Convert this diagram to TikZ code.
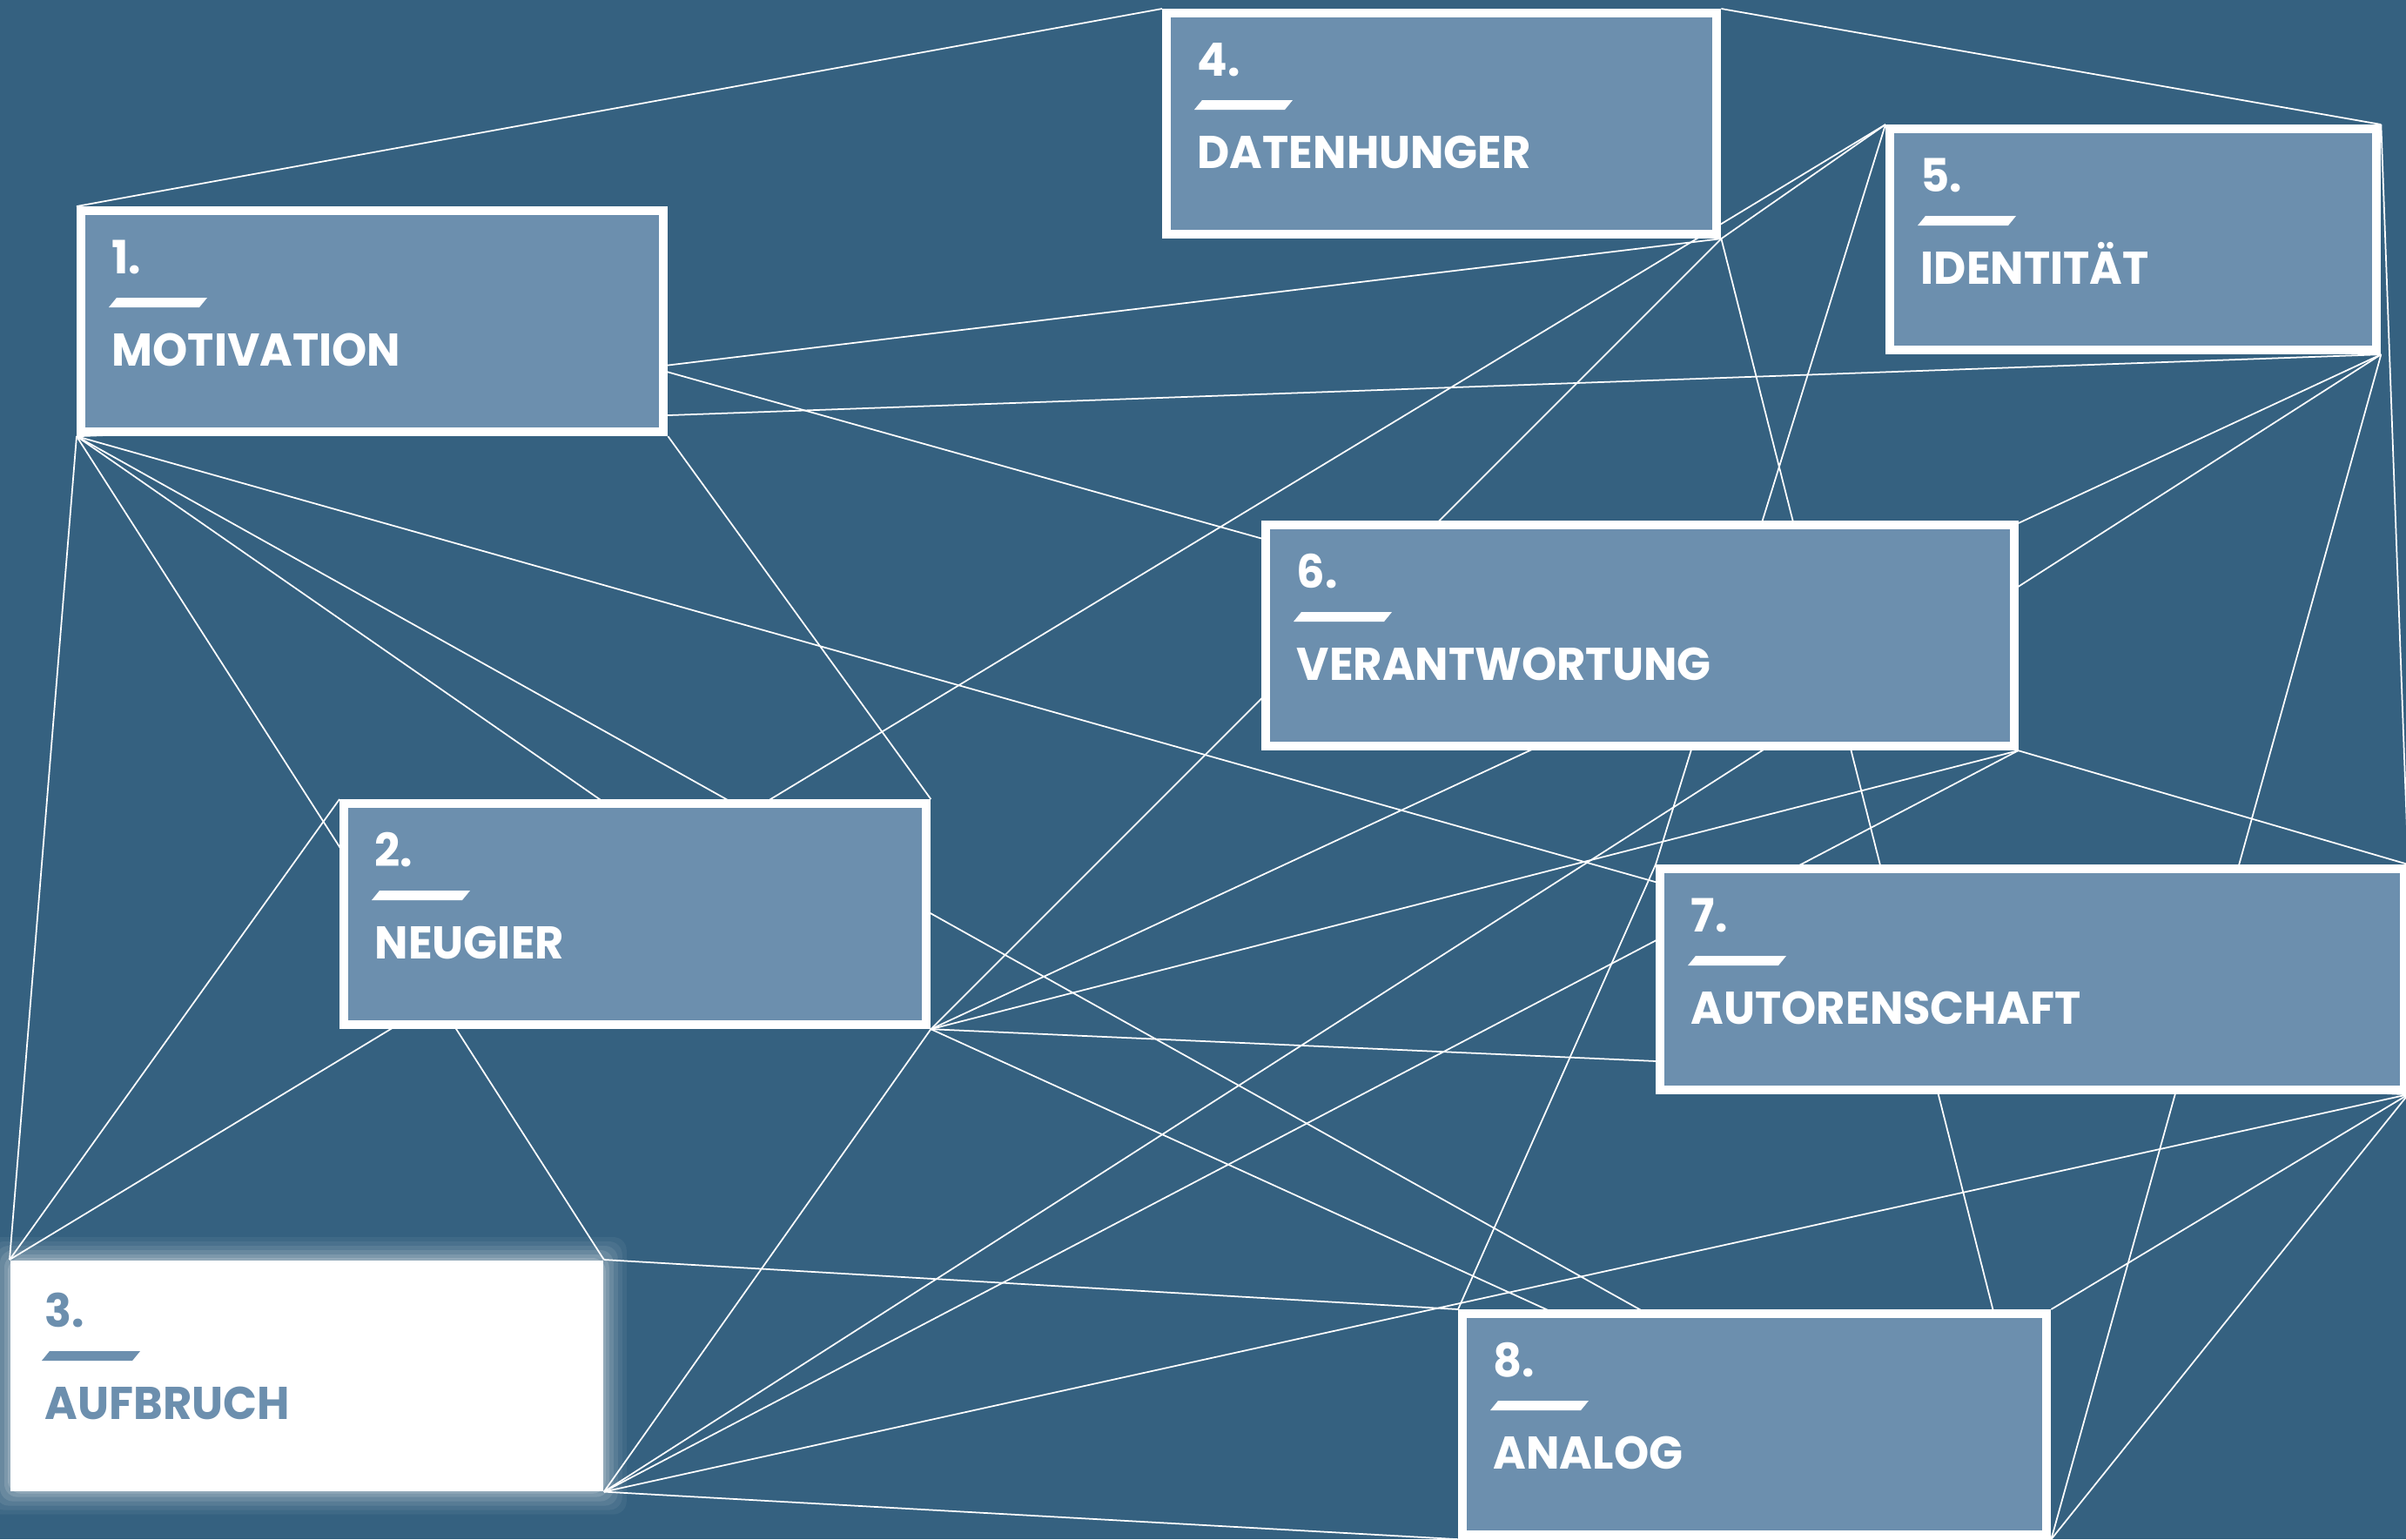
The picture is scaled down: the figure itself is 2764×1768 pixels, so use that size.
\documentclass[tikz,border=0pt]{standalone}
\usepackage{fontspec}
\newfontfamily\boxfont[FakeStretch=0.97]{Poppins}
\definecolor{bgblue}{RGB}{53,97,128}
\definecolor{boxfill}{RGB}{108,143,174}
\pgfdeclarelayer{bg}
\pgfdeclarelayer{glow}
\pgfdeclarelayer{lines}
\pgfsetlayers{bg,glow,lines,main}
\tikzset{
  card/.style={draw=white, line width=0.1cm, fill=boxfill, anchor=north west,
    inner sep=0pt, minimum width=6.69cm, minimum height=2.54cm},
  lightcard/.style={fill=white, anchor=north west, inner sep=0pt,
    minimum width=6.81cm, minimum height=2.65cm},
  numtext/.style={font=\boxfont\bfseries\fontsize{15}{18}\selectfont, text=white,
    anchor=base west, inner sep=0pt},
  titletext/.style={font=\boxfont\bfseries\fontsize{15}{18}\selectfont, text=white,
    anchor=base west, inner sep=0pt},
  link/.style={draw=white, line width=0.5pt},
}
% number, dash and title inside a card
\newcommand\cardlabel[4]{%
  \node[numtext, #4] (#1num) at ([shift={(40,77)}]#1.north west) {#2};
  \fill[#4] ([shift={(37,116)}]#1.north west) -- ++(104,0) -- ++(9,-11) -- ++(-104,0) -- cycle;
  \node[titletext, #4] (#1title) at ([shift={(40,183)}]#1.north west) {#3};
}
\begin{document}
\begin{tikzpicture}[x=0.01cm, y=-0.01cm]
\useasboundingbox (0,0) rectangle (2764,1768);
\begin{pgfonlayer}{bg}
  \fill[bgblue] (0,0) rectangle (2764,1768);
\end{pgfonlayer}

% cards
\node[card] (b1) at (88,237) {};
\node[card, minimum width=6.32cm] (b4) at (1335,10) {};
\node[card, minimum width=5.59cm] (b5) at (2166,143) {};
\node[card, minimum width=8.59cm] (b6) at (1449,598) {};
\node[card] (b2) at (390,918) {};
\node[card, minimum width=8.54cm] (b7) at (1902,993) {};
\node[lightcard] (b3) at (11,1447) {};
\node[card, minimum width=6.71cm] (b8) at (1675,1504) {};

\cardlabel{b1}{1.}{MOTIVATION}{white}
\cardlabel{b4}{4.}{DATENHUNGER}{white}
\cardlabel{b5}{5.}{IDENTITÄT}{white}
\cardlabel{b6}{6.}{VERANTWORTUNG}{white}
\cardlabel{b2}{2.}{NEUGIER}{white}
\cardlabel{b7}{7.}{AUTORENSCHAFT}{white}
\cardlabel{b3}{3.}{AUFBRUCH}{boxfill}
\cardlabel{b8}{8.}{ANALOG}{white}

% soft halo round the light card
\begin{pgfonlayer}{glow}
  \foreach \r/\o in {26/0.05,21/0.06,16/0.08,11/0.10,6/0.13,2/0.16}
    \fill[white, opacity=\o, rounded corners=0.15cm]
      ([shift={(-\r,-\r)}]b3.north west) rectangle ([shift={(\r,\r)}]b3.south east);
\end{pgfonlayer}

% connecting web, drawn behind the cards
\begin{pgfonlayer}{lines}
  \draw[link] (b1.north west) -- (b4.north west);
  \draw[link] (b4.north east) -- (b5.north east);
  \draw[link] (b5.north east) -- (b7.north east);
  \draw[link] (b1.south west) -- (b3.north west);
  \draw[link] (b1.south west) -- (b3.north east);
  \draw[link] (b1.south west) -- (b2.south east);
  \draw[link] (b1.south west) -- (b8.south east);
  \draw[link] (b1.south west) -- (b7.south east);
  \draw[link] (b1.south west) -- (b4.south east);
  \draw[link] (b1.south west) -- (b5.south east);
  \draw[link] (b1.north west) -- (b6.south east);
  \draw[link] (b1.south east) -- (b2.north east);
  \draw[link] (b4.south east) -- (b5.north west);
  \draw[link] (b4.south east) -- (b2.south east);
  \draw[link] (b4.south east) -- (b8.south east);
  \draw[link] (b5.north west) -- (b3.north west);
  \draw[link] (b5.north west) -- (b7.north west);
  \draw[link] (b7.north west) -- (b8.north west);
  \draw[link] (b5.south east) -- (b2.south east);
  \draw[link] (b5.south east) -- (b3.south east);
  \draw[link] (b5.south east) -- (b8.south east);
  \draw[link] (b6.south east) -- (b2.south east);
  \draw[link] (b6.south east) -- (b3.south east);
  \draw[link] (b6.south east) -- (b7.north east);
  \draw[link] (b2.north west) -- (b3.north west);
  \draw[link] (b2.south east) -- (b3.south east);
  \draw[link] (b2.south east) -- (b7.south east);
  \draw[link] (b2.south east) -- (b8.south east);
  \draw[link] (b3.north east) -- (b8.north west);
  \draw[link] (b3.south east) -- (b8.south west);
  \draw[link] (b3.south east) -- (b7.south east);
  \draw[link] (b7.south east) -- (b8.north east);
  \draw[link] (b7.south east) -- (b8.south east);
\end{pgfonlayer}
\end{tikzpicture}
\end{document}
